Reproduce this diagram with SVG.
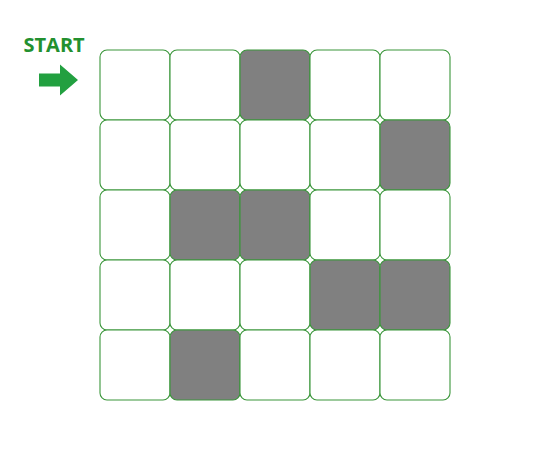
<svg xmlns="http://www.w3.org/2000/svg" width="550" height="450" viewBox="0 0 550 450">
<style>
.c{fill:#ffffff;stroke:#3a963a;stroke-width:1.1}
.g{fill:#808080;stroke:#3a963a;stroke-width:1.1}
.t{font-family:"Open Sans","Liberation Sans",sans-serif;font-weight:bold;font-size:20px;fill:#23902f}
</style>
<rect width="550" height="450" fill="#ffffff"/>
<g id="start">
<text class="t" x="23.5" y="51.5">START</text>
<polygon points="39,73.5 60,73.5 60,64.5 78,80 60,95.5 60,86.5 39,86.5" fill="#22a040"/>
</g>
<g id="grid">
<rect id="r0c0" class="c" x="100" y="50" width="70" height="70" rx="7"/>
<rect id="r0c1" class="c" x="170" y="50" width="70" height="70" rx="7"/>
<rect id="r0c2" class="g" x="240" y="50" width="70" height="70" rx="7"/>
<rect id="r0c3" class="c" x="310" y="50" width="70" height="70" rx="7"/>
<rect id="r0c4" class="c" x="380" y="50" width="70" height="70" rx="7"/>
<rect id="r1c0" class="c" x="100" y="120" width="70" height="70" rx="7"/>
<rect id="r1c1" class="c" x="170" y="120" width="70" height="70" rx="7"/>
<rect id="r1c2" class="c" x="240" y="120" width="70" height="70" rx="7"/>
<rect id="r1c3" class="c" x="310" y="120" width="70" height="70" rx="7"/>
<rect id="r1c4" class="g" x="380" y="120" width="70" height="70" rx="7"/>
<rect id="r2c0" class="c" x="100" y="190" width="70" height="70" rx="7"/>
<rect id="r2c1" class="g" x="170" y="190" width="70" height="70" rx="7"/>
<rect id="r2c2" class="g" x="240" y="190" width="70" height="70" rx="7"/>
<rect id="r2c3" class="c" x="310" y="190" width="70" height="70" rx="7"/>
<rect id="r2c4" class="c" x="380" y="190" width="70" height="70" rx="7"/>
<rect id="r3c0" class="c" x="100" y="260" width="70" height="70" rx="7"/>
<rect id="r3c1" class="c" x="170" y="260" width="70" height="70" rx="7"/>
<rect id="r3c2" class="c" x="240" y="260" width="70" height="70" rx="7"/>
<rect id="r3c3" class="g" x="310" y="260" width="70" height="70" rx="7"/>
<rect id="r3c4" class="g" x="380" y="260" width="70" height="70" rx="7"/>
<rect id="r4c0" class="c" x="100" y="330" width="70" height="70" rx="7"/>
<rect id="r4c1" class="g" x="170" y="330" width="70" height="70" rx="7"/>
<rect id="r4c2" class="c" x="240" y="330" width="70" height="70" rx="7"/>
<rect id="r4c3" class="c" x="310" y="330" width="70" height="70" rx="7"/>
<rect id="r4c4" class="c" x="380" y="330" width="70" height="70" rx="7"/>
</g>
<g id="connectors"></g>
</svg>
